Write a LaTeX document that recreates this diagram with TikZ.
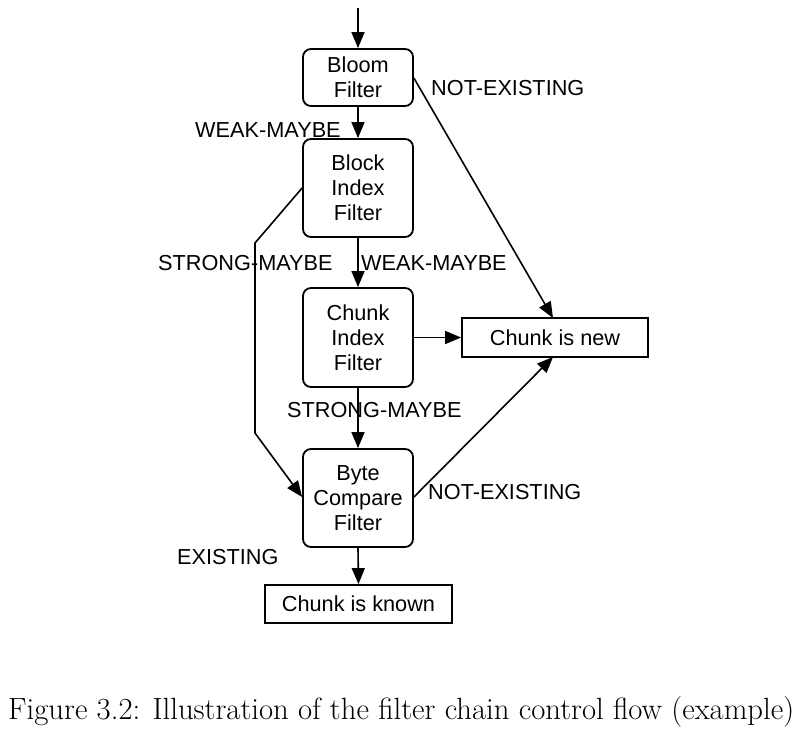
\documentclass[tikz,border=0pt]{standalone}
\usepackage{fontspec}
\newfontfamily\hv{Liberation Sans}
\usetikzlibrary{arrows.meta}
\begin{document}
\begin{tikzpicture}[x=1pt,y=-1pt,
  filt/.style={draw,line width=1.8pt,rounded corners=8pt,minimum width=110pt,align=center,inner sep=0pt,font=\hv\fontsize{21.7}{25}\selectfont},
  res/.style={draw,line width=1.8pt,inner sep=0pt,font=\hv\fontsize{21.7}{25}\selectfont},
  lbl/.style={inner sep=0pt,font=\hv\fontsize{21.7}{25}\selectfont},
  arr/.style={line width=1.6pt,-{Triangle[length=16pt,width=13pt]}}]
\useasboundingbox (0,0) rectangle (801,729);
\node[filt,minimum height=57pt] (bloom) at (358,77.5) {Bloom\\Filter};
\node[filt,minimum height=98pt] (block) at (358,188) {Block\\Index\\Filter};
\node[filt,minimum height=99pt] (chunk) at (358,337.5) {Chunk\\Index\\Filter};
\node[filt,minimum height=98pt] (byte) at (358,498) {Byte\\Compare\\Filter};
\node[res,minimum width=186pt,minimum height=39pt] (new) at (555,337.5) {Chunk is new};
\node[res,minimum width=187pt,minimum height=38pt] (known) at (358.5,604) {Chunk is known};
\coordinate (in) at (358,8);
\coordinate (b1) at (255,243);
\coordinate (b2) at (255,433);
\draw[arr] (in) -- (bloom.north);
\draw[arr] (bloom.south) -- (block.north);
\draw[arr] (block.south) -- (chunk.north);
\draw[arr] (chunk.south) -- (byte.north);
\draw[arr] (byte.south) -- (known.north);
\draw[arr] (chunk.east) -- (new.west);
\draw[arr] (bloom.east |- 0,78) -- (553,318);
\draw[arr] (byte.east |- 0,497) -- (553,357);
\draw[arr] (block.west |- 0,188) -- (b1) -- (b2) -- (byte.west |- 0,497);
\node[lbl,anchor=west] (l1) at (431,88) {NOT-EXISTING};
\node[lbl,anchor=west] (l2) at (195,130) {WEAK-MAYBE};
\node[lbl,anchor=west] (l3) at (158,263) {STRONG-MAYBE};
\node[lbl,anchor=west] (l4) at (361,263) {WEAK-MAYBE};
\node[lbl,anchor=west] (l5) at (287,410) {STRONG-MAYBE};
\node[lbl,anchor=west] (l6) at (428,492) {NOT-EXISTING};
\node[lbl,anchor=west] (l7) at (177,557) {EXISTING};
\node[inner sep=0pt,anchor=base west,font=\fontsize{30.7}{36}\selectfont] (cap) at (8,719) {Figure 3.2: Illustration of the filter chain control flow (example)};
\end{tikzpicture}
\end{document}
